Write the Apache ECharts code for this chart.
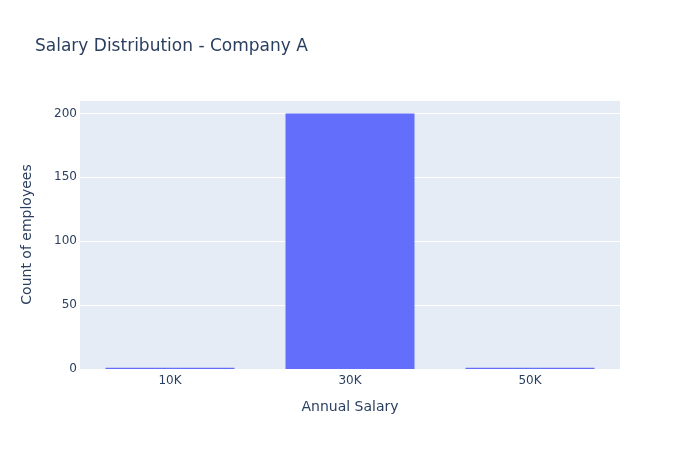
<!DOCTYPE html>
<html><head><meta charset="utf-8">
<script src="https://cdn.jsdelivr.net/npm/echarts@6/dist/echarts.min.js"></script>
<style>html,body{margin:0;padding:0;background:#fff}#c{width:700px;height:450px}</style>
</head><body><div id="c"></div>
<script>
const categories = ['10K', '30K', '50K'];
const counts = [1, 200, 1];
const yTicks = [0, 50, 100, 150, 200];

const FONT = '"DejaVu Sans", verdana, arial, sans-serif';
const TXT = '#2a3f5f';
const chart = echarts.init(document.getElementById('c'), null, {renderer: 'canvas'});
chart.setOption({
  animation: false,
  backgroundColor: '#fff',
  title: {
    text: 'Salary Distribution - Company A',
    left: 35, top: 38, padding: 0,
    textStyle: {fontFamily: FONT, fontSize: 17, fontWeight: 'normal', color: TXT}
  },
  grid: {left: 80, right: 80, top: 100, bottom: 81, show: true, backgroundColor: '#e5ecf6', borderWidth: 0},
  xAxis: {
    type: 'category', data: categories,
    name: 'Annual Salary', nameLocation: 'middle', nameGap: 31,
    nameTextStyle: {fontFamily: FONT, fontSize: 14, color: TXT},
    axisLine: {show: false}, axisTick: {show: false},
    axisLabel: {fontFamily: FONT, fontSize: 12, color: TXT, margin: 6}
  },
  yAxis: {
    type: 'value', min: 0, max: 210.5, interval: 50,
    name: 'Count of employees', nameLocation: 'middle', nameGap: 46,
    nameTextStyle: {fontFamily: FONT, fontSize: 14, color: TXT},
    axisLine: {show: false}, axisTick: {show: false},
    axisLabel: {fontFamily: FONT, fontSize: 12, color: TXT, margin: 3,
      formatter: v => yTicks.includes(v) ? String(v) : ''},
    splitLine: {lineStyle: {color: '#fff', width: 1}}
  },
  series: [{
    type: 'bar', data: counts, barWidth: 129,
    itemStyle: {color: '#636efa'}
  }]
});
</script></body></html>
